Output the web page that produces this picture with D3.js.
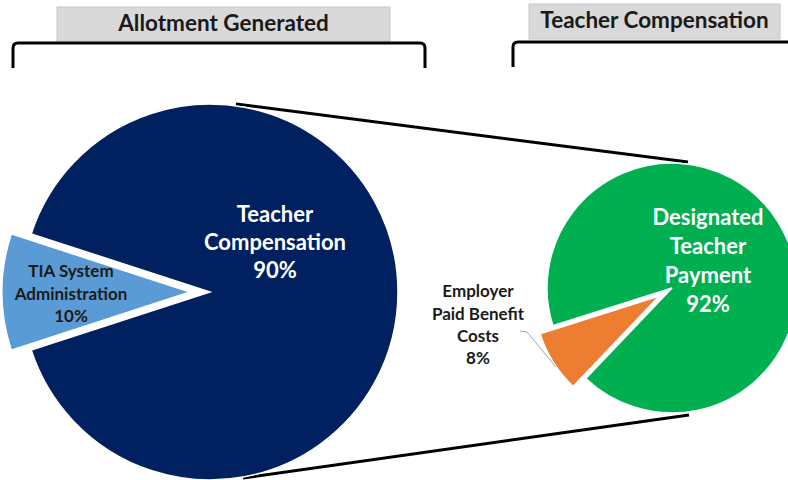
<!DOCTYPE html>
<html>
<head>
<meta charset="utf-8">
<script src="https://cdn.jsdelivr.net/npm/d3@7"></script>
<style>
  body { margin: 0; background: #fff; }
  svg { display: block; font-family: Lato, "Open Sans", sans-serif; font-weight: bold; }
</style>
</head>
<body>
<svg width="788" height="480"></svg>
<script>
// ============================== DATA ==============================
const leftCategories = ["Teacher Compensation", "TIA System Administration"];
const leftValues = [90, 10];
const leftLabels = [["Teacher", "Compensation", "90%"], ["TIA System", "Administration", "10%"]];

const rightCategories = ["Designated Teacher Payment", "Employer Paid Benefit Costs"];
const rightValues = [92, 8];
const rightLabels = [["Designated", "Teacher", "Payment", "92%"], ["Employer", "Paid Benefit", "Costs", "8%"]];

const headers = ["Allotment Generated", "Teacher Compensation"];
// ==================================================================

const svg = d3.select("svg");
const deg = Math.PI / 180;

// ------------------------------ HEADERS ------------------------------
const headerBoxes = [
  {x: 57, y: 7, w: 333, h: 34},
  {x: 529, y: 4, w: 251, h: 35}
];
headerBoxes.forEach((b, i) => {
  svg.append("rect")
    .attr("x", b.x).attr("y", b.y).attr("width", b.w).attr("height", b.h)
    .attr("fill", "#d9d9d9").attr("stroke", "#c8c8c8").attr("stroke-width", 1);
  svg.append("text")
    .attr("x", b.x + b.w / 2).attr("y", b.y + b.h / 2 + 1)
    .attr("text-anchor", "middle").attr("dominant-baseline", "middle")
    .attr("font-size", 22.5).attr("fill", "#1a1a1a")
    .text(headers[i]);
});

// brackets
svg.append("path")
  .attr("d", "M13,68 L13,48 Q13,43 18,43 L420,43 Q425,43 425,48 L425,68")
  .attr("fill", "none").attr("stroke", "#000").attr("stroke-width", 3);
svg.append("path")
  .attr("d", "M513,67 L513,47 Q513,42 518,42 L792,42")
  .attr("fill", "none").attr("stroke", "#000").attr("stroke-width", 3);

// ------------------------------ CONNECTING LINES ------------------------------
svg.append("line").attr("x1", 236).attr("y1", 104).attr("x2", 688).attr("y2", 162)
  .attr("stroke", "#000").attr("stroke-width", 3);
svg.append("line").attr("x1", 243).attr("y1", 478).attr("x2", 689).attr("y2", 415)
  .attr("stroke", "#000").attr("stroke-width", 3);

// ------------------------------ PIES ------------------------------
function drawPie(cx, cy, r, values, colors, startDeg, explode) {
  const pie = d3.pie().sort(null)
    .startAngle(startDeg * deg).endAngle((startDeg + 360) * deg);
  const arc = d3.arc().innerRadius(0).outerRadius(r);
  const g = svg.append("g").attr("transform", "translate(" + cx + "," + cy + ")");
  g.selectAll("path")
    .data(pie(values))
    .enter().append("path")
    .attr("d", arc)
    .attr("fill", (d, i) => colors[i])
    .attr("stroke", "#fff").attr("stroke-width", 1.5)
    .attr("transform", (d, i) => {
      const a = (d.startAngle + d.endAngle) / 2;
      const off = explode[i];
      return "translate(" + (Math.sin(a) * off) + "," + (-Math.cos(a) * off) + ")";
    });
  return g;
}

// left: small slice centred on the left side
drawPie(210, 292, 188, leftValues, ["#002060", "#5b9bd5"], -72, [0, 20]);
// right: small slice pointing down-left
drawPie(672, 288, 125, rightValues, ["#00b050", "#ed7d31"], -107.6, [0, 15]);

// leader line for employer benefit slice
svg.append("polyline")
  .attr("points", "520,331 527,332 556,367")
  .attr("fill", "none").attr("stroke", "#a6a6a6").attr("stroke-width", 1);

// ------------------------------ LABELS ------------------------------
function drawLabel(x, y, lines, size, lh, color) {
  const t = svg.append("text")
    .attr("text-anchor", "middle")
    .attr("font-size", size).attr("fill", color);
  lines.forEach((s, i) => {
    t.append("tspan").attr("x", x).attr("y", y + i * lh)
      .attr("dominant-baseline", "middle").text(s);
  });
}
drawLabel(275, 216, leftLabels[0], 22, 28, "#fff");
drawLabel(71, 273, leftLabels[1], 17, 22.5, "#1a1a1a");
drawLabel(708, 219, rightLabels[0], 22, 29, "#fff");
drawLabel(478, 293, rightLabels[1], 17, 22.3, "#1a1a1a");
</script>
</body>
</html>
